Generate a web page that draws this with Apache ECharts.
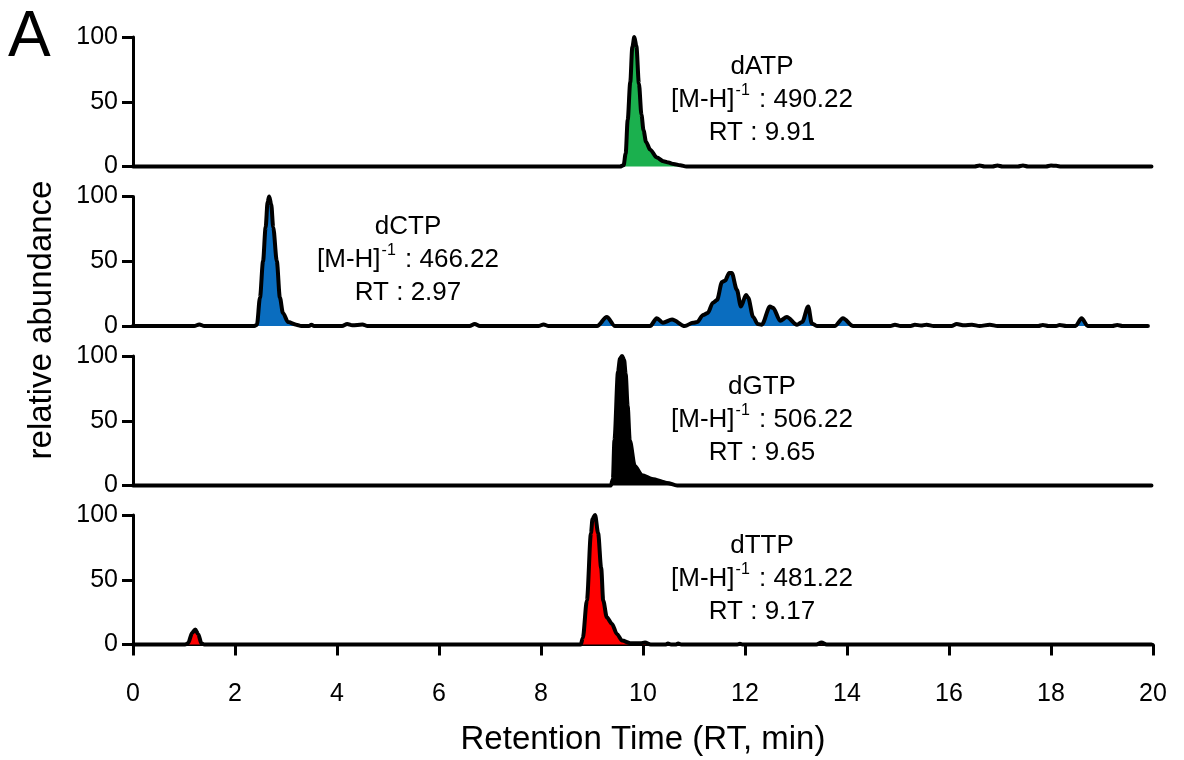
<!DOCTYPE html>
<html>
<head>
<meta charset="utf-8">
<script src="https://cdn.jsdelivr.net/npm/echarts@6/dist/echarts.min.js"></script>
<style>html,body{margin:0;padding:0;background:#fff}#c{width:1184px;height:760px}</style>
</head>
<body>
<div id="c"></div>
<script>
// ---- data (retention time in min, relative abundance in %) ----
const xTicks = [0, 2, 4, 6, 8, 10, 12, 14, 16, 18, 20];
const yTicks = [0, 50, 100];

const dATP = [[0,0],[9.55,0],[9.62,1],[9.66,10],[9.7,36],[9.75,65],[9.79,92],[9.83,100],[9.87,93],[9.92,64],[9.97,40],[10.01,28],[10.06,19],[10.14,13],[10.27,7],[10.4,4],[10.5,3],[10.6,2],[10.73,1],[10.85,0],[16.5,0],[16.6,0.8],[16.7,0],[16.85,0],[16.95,0.8],[17.05,0],[17.35,0],[17.45,0.8],[17.55,0],[17.9,0],[18.0,0.8],[18.1,0.5],[18.2,0],[19.97,0]];

const dCTP = [[0,0],[1.2,0],[1.3,1.2],[1.4,0],[2.38,0],[2.43,1],[2.49,22],[2.55,50],[2.6,76],[2.64,96],[2.67,100],[2.71,94],[2.75,76],[2.82,50],[2.88,22],[2.94,10],[3.04,3],[3.2,1],[3.3,0],[3.45,0],[3.5,1],[3.55,0],[4.1,0],[4.2,1.5],[4.3,0.5],[4.5,1.2],[4.6,0],[6.6,0],[6.7,1.5],[6.8,0],[7.95,0],[8.05,1.2],[8.15,0],[9.1,0],[9.29,7],[9.45,0],[10.14,0],[10.27,6],[10.39,2.5],[10.57,5],[10.82,0],[10.98,2.5],[11.06,3],[11.18,8.5],[11.27,10],[11.37,18],[11.45,20],[11.55,34],[11.61,35],[11.69,41],[11.74,41],[11.84,28],[11.92,15],[12.02,24],[12.06,22],[12.16,7],[12.25,1.5],[12.33,1],[12.49,15],[12.55,14],[12.69,4],[12.82,7],[13.02,1],[13.12,3],[13.24,15],[13.31,2],[13.41,0],[13.76,0],[13.92,6],[14.12,0],[14.85,0],[14.94,1],[15.05,0],[15.25,0],[15.33,1],[15.45,0.3],[15.56,1],[15.7,0],[16.05,0],[16.15,1.5],[16.3,0.5],[16.45,1],[16.6,0],[16.8,1],[16.95,0],[17.75,0],[17.84,0.8],[17.95,0],[18.1,0],[18.17,0.8],[18.3,0],[18.48,0],[18.6,6],[18.72,0],[19.2,0],[19.3,0.8],[19.4,0],[19.9,0]];

const dGTP = [[0,0],[9.37,0],[9.41,5],[9.44,35],[9.51,88],[9.55,98],[9.59,100],[9.63,97],[9.66,86],[9.7,61],[9.74,35],[9.84,15],[9.98,8],[10.18,5],[10.47,2],[10.67,0],[19.97,0]];

const dTTP = [[0,0],[1.02,0],[1.08,1],[1.16,9],[1.22,11.5],[1.28,8],[1.34,1],[1.4,0],[8.78,0],[8.82,5],[8.9,34],[8.98,86],[9.01,97],[9.06,100],[9.12,86],[9.18,59],[9.22,34],[9.29,21],[9.39,16],[9.49,8],[9.59,3],[9.75,1],[9.95,1],[10.04,1.5],[10.15,0],[10.45,0],[10.49,0.8],[10.55,0],[10.65,0],[10.69,0.8],[10.75,0],[11.85,0],[11.9,0.5],[11.95,0],[13.4,0],[13.5,1.5],[13.6,0],[19.97,0]];

const names = ['dATP', 'dCTP', 'dGTP', 'dTTP'];
const masses = ['490.22', '466.22', '506.22', '481.22'];
const rts = ['9.91', '2.97', '9.65', '9.17'];
const seriesData = [dATP, dCTP, dGTP, dTTP];
const fills = ['#1bb04e', '#0a6dbf', '#000000', '#ff0000'];

// ---- layout ----
const FONT = 'Liberation Sans, Arial, Helvetica, sans-serif';
const tops = [37, 196.5, 356, 515];
const H = 129.5;
const labelPos = [[762, 50], [408, 210], [762, 370], [762, 529]];

const grids = [], xAxes = [], yAxes = [], series = [], graphics = [];
for (let i = 0; i < 4; i++) {
  grids.push({ left: 133, width: 1020, top: tops[i], height: H });
  const last = i === 3;
  xAxes.push({
    gridIndex: i, type: 'value', min: 0, max: 20, interval: 2,
    show: last, offset: last ? 17 : 0,
    axisLine: { show: true, lineStyle: { color: '#000', width: 3 } },
    axisTick: { show: true, length: 11, lineStyle: { color: '#000', width: 3 } },
    axisLabel: { show: true, color: '#000', fontSize: 25, fontFamily: FONT, margin: 20 },
    splitLine: { show: false },
    name: last ? 'Retention Time (RT, min)' : '',
    nameLocation: 'middle', nameGap: 62,
    nameTextStyle: { color: '#000', fontSize: 33, fontFamily: FONT }
  });
  yAxes.push({
    gridIndex: i, type: 'value', min: 0, max: 100, interval: 50,
    axisLine: { show: true, lineStyle: { color: '#000', width: 3 } },
    axisTick: { show: true, length: 11, lineStyle: { color: '#000', width: 3 } },
    axisLabel: { color: '#000', fontSize: 25, fontFamily: FONT, margin: 15 },
    splitLine: { show: false }
  });
  series.push({
    type: 'line', xAxisIndex: i, yAxisIndex: i, data: seriesData[i],
    smooth: 0.3, smoothMonotone: 'x', symbol: 'none', clip: false,
    lineStyle: { color: '#000', width: 4, join: 'round', cap: 'round' },
    areaStyle: { color: fills[i], opacity: 1, origin: 'start' },
    z: 2
  });
  graphics.push({
    type: 'text', x: labelPos[i][0], y: labelPos[i][1],
    style: {
      text: '{n|' + names[i] + '}\n{n|[M-H]}{s|-1}{n| : ' + masses[i] + '}\n{n|RT : ' + rts[i] + '}',
      x: 0, y: 0, align: 'center', verticalAlign: 'top',
      rich: {
        n: { fontSize: 26, fontFamily: FONT, fill: '#000', lineHeight: 33 },
        s: { fontSize: 16, fontFamily: FONT, fill: '#000', lineHeight: 33, verticalAlign: 'top', padding: [0, 2, 12, 1] }
      }
    }
  });
}

graphics.push({
  type: 'text', x: 8, y: 6,
  style: { text: 'A', fontSize: 64, fontFamily: FONT, fill: '#000' }
});
graphics.push({
  type: 'text', x: 42, y: 320, rotation: Math.PI / 2,
  style: { text: 'relative abundance', fontSize: 33, fontFamily: FONT, fill: '#000', align: 'center', verticalAlign: 'middle' }
});

const chart = echarts.init(document.getElementById('c'), null, { renderer: 'canvas' });
chart.setOption({
  animation: false,
  backgroundColor: '#fff',
  grid: grids, xAxis: xAxes, yAxis: yAxes, series: series,
  graphic: graphics
});
</script>
</body>
</html>
